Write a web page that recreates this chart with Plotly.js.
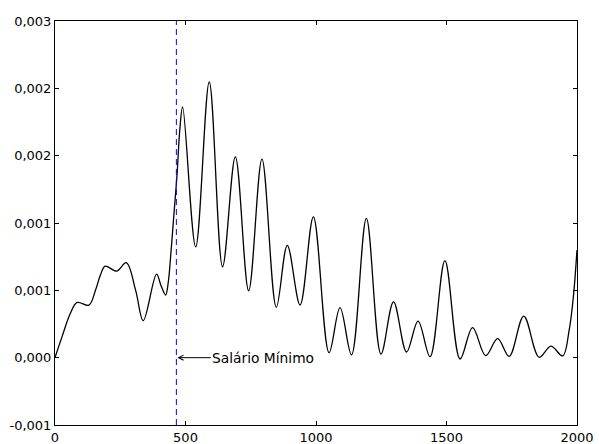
<!DOCTYPE html>
<html>
<head>
<meta charset="utf-8">
<script src="https://cdn.plot.ly/plotly-3.0.1.min.js"></script>
<style>html,body{margin:0;padding:0;background:#fff;}#chart{width:599px;height:444px;}</style>
</head>
<body>
<div id="chart"></div>
<script>
// Density curve (x = renda, y = densidade)
const renda = [0, 27, 59, 85, 130, 155, 174, 192, 236, 273, 309, 338, 389, 407, 424, 434, 445, 455, 468, 478, 489, 539, 591, 642, 691, 742, 793, 848, 890, 939, 990, 1050, 1092, 1136, 1193, 1249, 1297, 1347, 1391, 1437, 1494, 1552, 1600, 1650, 1696, 1740, 1796, 1855, 1900, 1945, 1970, 1986, 2000];
const densidade = [0, 0.000156, 0.00033, 0.00041, 0.00039, 0.0005, 0.000613, 0.00068, 0.000643, 0.000705, 0.0005, 0.000275, 0.000621, 0.00053, 0.000465, 0.00056, 0.00080, 0.00105, 0.00137, 0.00169, 0.001862, 0.000823, 0.002047, 0.000675, 0.001491, 0.000497, 0.001474, 0.000374, 0.000834, 0.000391, 0.001046, 0.000037, 0.000371, 0.00002, 0.001034, 0.000027, 0.000415, 0.000042, 0.000272, 0.000007, 0.00072, -0.00001, 0.000223, 0.000015, 0.000141, 0.00001, 0.000309, 0.000003, 0.000085, 0.000013, 0.000205, 0.00045, 0.0008];

const salarioMinimo = 465;
const rotuloSalario = "Salário Mínimo";

const yTickVals = [-0.0005, 0, 0.0005, 0.001, 0.0015, 0.002, 0.0025];
const yTickText = ["-0,001", "0,000", "0,001", "0,001", "0,002", "0,002", "0,003"];
const xTickVals = [0, 500, 1000, 1500, 2000];
const xTickText = ["0", "500", "1000", "1500", "2000"];

const font = {family: "DejaVu Sans", size: 13, color: "#000"};
const annFont = {family: "DejaVu Sans", size: 13.8, color: "#000"};

const traces = [
  {x: renda, y: densidade, type: "scatter", mode: "lines",
   line: {color: "#000", width: 1.3, shape: "spline", smoothing: 1.0},
   hoverinfo: "skip", showlegend: false}
];

const layout = {
  width: 599, height: 444,
  margin: {l: 54.5, r: 22.3, t: 20.7, b: 19, pad: 0},
  paper_bgcolor: "#fff", plot_bgcolor: "#fff",
  font: font,
  showlegend: false,
  xaxis: {range: [0, 2000], tickvals: xTickVals, ticktext: xTickText,
          ticks: "inside", ticklen: 4, tickcolor: "#000", tickwidth: 1,
          showline: true, linecolor: "#000", linewidth: 1, mirror: "ticks",
          showgrid: false, zeroline: false, tickfont: font},
  yaxis: {range: [-0.0005, 0.0025], tickvals: yTickVals, ticktext: yTickText,
          ticks: "inside", ticklen: 4, tickcolor: "#000", tickwidth: 1,
          showline: true, linecolor: "#000", linewidth: 1, mirror: "ticks",
          showgrid: false, zeroline: false, tickfont: font},
  shapes: [
    {type: "line", xref: "x", yref: "paper", x0: salarioMinimo, x1: salarioMinimo, y0: 0, y1: 1,
     line: {color: "#0000ff", width: 1, dash: "6px,4px"}}
  ],
  annotations: [
    {x: salarioMinimo, y: 0, xref: "x", yref: "y", text: rotuloSalario,
     showarrow: true, arrowhead: 5, arrowsize: 1, arrowwidth: 1, arrowcolor: "#000",
     ax: 87, ay: 0, font: annFont, standoff: 1}
  ]
};

Plotly.newPlot("chart", traces, layout, {displayModeBar: false, staticPlot: true});
</script>
</body>
</html>
